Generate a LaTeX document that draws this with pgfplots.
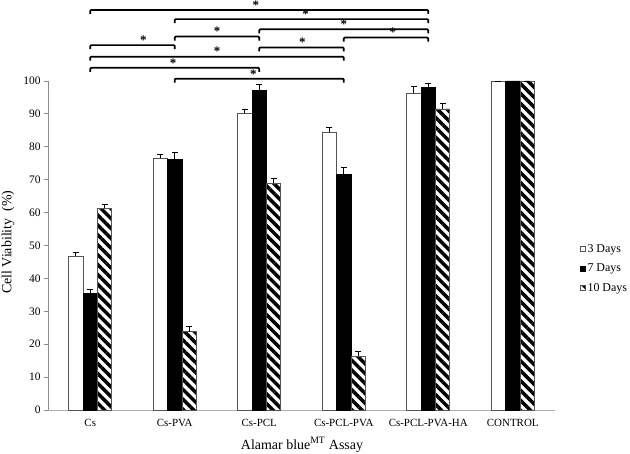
\documentclass[border=0pt]{standalone}
\usepackage{fontspec}
\setmainfont{Liberation Serif}
\usepackage{pgfplots}
\pgfplotsset{compat=1.18}
\usepackage{pgfplotstable}
\usetikzlibrary{patterns.meta}

\definecolor{axisgray}{HTML}{8C8C8C}
\definecolor{bargray}{HTML}{555555}

% category, mean, +error for each time point
\pgfplotstableread{
x  v3    e3   v7    e7   v10   e10
0  46.8  1.0  35.5  1.2  61.3  1.3
1  76.5  1.3  76.2  2.0  23.8  1.5
2  90.2  1.3  97.1  1.8  68.9  1.4
3  84.4  1.5  71.7  1.9  16.4  1.3
4  96.4  1.9  98.1  1.2  91.5  1.7
5  100   0    100   0    100   0
}\viab

% significance bracket: left, right, height, star position
\newcommand{\sig}[4]{%
  \draw[line width=1.7bp,rounded corners=1bp] (axis cs:#1,#3-1.2) -- (axis cs:#1,#3) -- (axis cs:#2,#3) -- (axis cs:#2,#3-1.2);
  \node[font=\fontsize{13}{14}\selectfont\bfseries,inner sep=0pt] at (axis cs:#4,#3+1.5) {*};}

\begin{document}
\begin{tikzpicture}
\begin{axis}[
  scale only axis, width=507bp, height=329bp,
  xmin=-0.5, xmax=5.5, ymin=0, ymax=100,
  axis x line*=bottom, axis y line*=left,
  x axis line style={draw=axisgray!70, line width=0.8bp},
  y axis line style={draw=axisgray, line width=0.8bp},
  ytick={0,10,...,100}, tick align=outside,
  ytick style={draw=axisgray, line width=0.8bp}, major tick length=4bp,
  xtick={0,...,5}, xtick style={draw=none},
  xticklabels={Cs,Cs-PVA,Cs-PCL,Cs-PCL-PVA,Cs-PCL-PVA-HA,CONTROL},
  x tick label style={font=\fontsize{11}{13}\selectfont, yshift=-2bp},
  y tick label style={font=\fontsize{11.5}{13}\selectfont},
  /pgf/number format/assume math mode=true,
  xlabel={Alamar blue\textsuperscript{MT} Assay},
  ylabel={Cell Viability~ (\%)},
  xlabel style={font=\fontsize{14}{16}\selectfont, at={(axis description cs:0.501,-0.106)}, anchor=center},
  ylabel style={font=\fontsize{14}{16}\selectfont, at={(axis description cs:-0.079,0.51)}, anchor=center},
  ybar=0pt, bar width=0.17,
  error bars/y dir=plus, error bars/y explicit,
  error bars/error bar style={black, line width=0.8bp},
  error bars/error mark options={rotate=90, black, mark size=3bp, line width=0.8bp},
  clip=false,
  legend style={draw=none, fill=none, at={(1.049,0.43)}, anchor=west,
    font=\fontsize{12}{14}\selectfont, row sep=6bp, inner sep=0pt},
  legend cell align=left,
  legend image code/.code={\draw[#1, line width=0.5bp] (0bp,-2.5bp) rectangle (5bp,2.5bp);},
]
\addplot[fill=white, draw=bargray, line width=0.6bp, bar shift=-0.17] table[x=x, y=v3, y error=e3] {\viab};
\addplot[fill=black, draw=black, line width=0.6bp, bar shift=0] table[x=x, y=v7, y error=e7] {\viab};
\addplot[pattern={Lines[angle=-45, distance=7bp, line width=3.5bp]}, draw=bargray, line width=0.6bp, bar shift=0.17] table[x=x, y=v10, y error=e10] {\viab};
\legend{3 Days, 7 Days, 10 Days}

\sig{0}{4}{121.6}{1.96}
\sig{1}{4}{118.8}{2.55}
\sig{2}{4}{115.7}{3.00}
\sig{1}{2}{113.5}{1.50}
\sig{3}{4}{113.2}{3.58}
\sig{0}{1}{110.9}{0.63}
\sig{2}{3}{110.2}{2.51}
\sig{0}{3}{107.4}{1.50}
\sig{0}{2}{104.0}{0.98}
\sig{1}{3}{100.7}{1.93}

\coordinate (O) at (axis cs:-0.5,0);
\end{axis}
\pgfresetboundingbox
\path (O) ++(-48bp,-44bp) rectangle ++(630bp,454bp);
\end{tikzpicture}
\end{document}
